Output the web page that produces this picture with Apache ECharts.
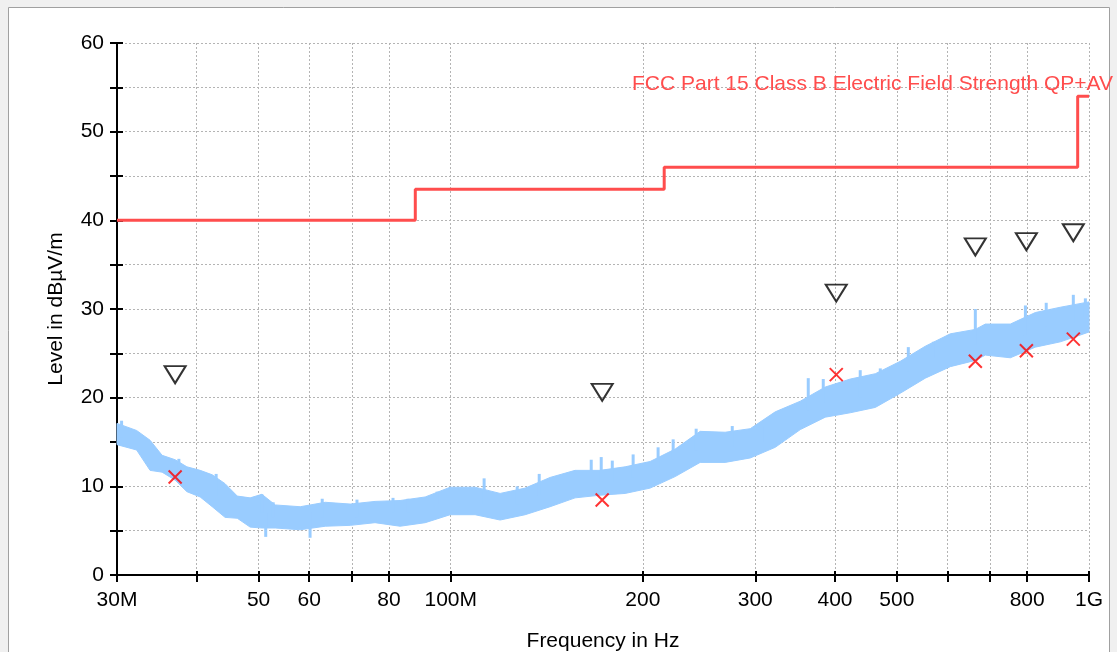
<!DOCTYPE html>
<html>
<head>
<meta charset="utf-8">
<script src="https://cdn.jsdelivr.net/npm/echarts@6/dist/echarts.min.js"></script>
<style>
  html, body { margin: 0; padding: 0; background: #f0f0f0; }
  #chart { width: 1117px; height: 652px; }
</style>
</head>
<body>
<div id="chart"></div>
<script>
// trace envelope, frequency in MHz
var freqMHz = [30, 32.2, 33.8, 35.3, 37.0, 38.6, 40.5, 42.3, 44.3, 46.3, 48.5, 50.6, 53.1, 58.1,
  63.6, 69.6, 76.1, 83.3, 91.2, 99.8, 109.2, 119.5, 130.8, 143.1, 156.6, 171.4, 187.6, 205.3,
  224.7, 245.9, 269.1, 294.6, 322.4, 352.9, 386.2, 422.7, 462.6, 506.2, 554.0, 606.3, 663.6,
  688, 753, 824, 902, 1000];
var traceLow = [14.7, 14.1, 11.8, 11.6, 10.7, 9.4, 8.8, 7.7, 6.5, 6.4, 5.4, 5.3, 5.3, 5.1,
  5.5, 5.6, 5.9, 5.5, 5.9, 6.8, 6.8, 6.2, 6.8, 7.7, 8.7, 9.0, 9.2, 9.8,
  11.1, 12.7, 12.7, 13.2, 14.4, 16.4, 17.8, 18.3, 18.9, 20.5, 22.2, 23.5, 24.2,
  24.8, 24.5, 25.7, 26.3, 27.4];
var traceHigh = [17.1, 16.3, 15.2, 13.5, 13.0, 12.2, 11.8, 11.3, 10.3, 8.9, 8.7, 9.1, 7.9, 7.7,
  8.2, 8.0, 8.3, 8.4, 8.8, 9.9, 9.9, 9.2, 9.8, 11.0, 11.8, 11.8, 12.2, 12.8,
  14.2, 16.2, 16.1, 16.5, 18.4, 19.6, 21.2, 22.1, 22.7, 24.1, 25.8, 27.2, 27.7,
  28.3, 28.3, 29.6, 30.2, 30.8];

// single spikes / dips of the trace
var spikeFreq = [30.5, 37.5, 42.9, 50.6, 51.3, 52.7, 60.2, 62.9, 71.3, 81.2, 85.7, 95.2, 112.8,
  127.1, 137.6, 166.0, 172.1, 179.1, 193.1, 211.3, 223.1, 242.4, 276.1, 307.7, 363.2, 383.4,
  438.1, 471.0, 521.1, 570.3, 663.6, 795, 857, 945, 987];
var spikeLow = [15.5, 11.5, 9.0, 7.0, 4.3, 6.5, 4.2, 6.5, 6.5, 7.0, 7.0, 8.0, 8.0,
  8.0, 9.0, 10.5, 10.5, 10.5, 11.0, 12.0, 13.0, 14.0, 14.5, 15.0, 18.5, 19.5,
  20.0, 21.0, 23.0, 24.5, 26.0, 27.0, 28.0, 28.5, 29.0];
var spikeHigh = [17.4, 13.1, 11.4, 9.1, 7.0, 8.2, 7.0, 8.6, 8.5, 8.7, 8.6, 9.4, 10.9,
  10.0, 11.4, 13.0, 13.3, 12.9, 13.6, 14.4, 15.3, 16.5, 16.8, 16.8, 22.2, 22.1,
  23.1, 23.3, 25.7, 26.3, 30.0, 30.4, 30.7, 31.6, 31.2];

// limit line (step)
var limitFreq = [30, 88, 88, 216, 216, 960, 960, 1000];
var limitLevel = [40, 40, 43.5, 43.5, 46, 46, 54, 54];

// final measurement markers
var markFreq = [37.0, 172.7, 401.8, 663.6, 797.8, 945];
var peakLevel = [22.6, 20.6, 31.8, 37.0, 37.6, 38.6];
var qpLevel = [11.05, 8.46, 22.6, 24.1, 25.3, 26.6];

// axis ticks
var xTickValues = [30, 40, 50, 60, 70, 80, 100, 200, 300, 400, 500, 600, 700, 800, 1000];
var xLabelValues = [30, 50, 60, 80, 100, 200, 300, 400, 500, 800, 1000];

var font = 'Liberation Sans';
var fs = 21;
var traceColor = '#99ccff';

function pairs(xs, ys) {
  return xs.map(function (x, i) { return [x, ys[i]]; });
}

var chart = echarts.init(document.getElementById('chart'));

chart.setOption({
  animation: false,
  backgroundColor: '#f0f0f0',
  graphic: [
    {
      type: 'rect',
      z: -10,
      silent: true,
      shape: { x: 8.5, y: 7.5, width: 1101, height: 700 },
      style: { fill: '#ffffff', stroke: '#a0a0a0', lineWidth: 1 }
    },
    {
      type: 'text',
      right: 4,
      top: 74,
      z: 100,
      style: {
        text: 'FCC Part 15 Class B Electric Field Strength QP+AV',
        fill: '#ff4d4d',
        font: fs + 'px ' + font
      }
    }
  ],
  grid: {
    left: 117, right: 28, top: 43, bottom: 77,
    outerBoundsMode: 'none'
  },
  xAxis: [
    {
      type: 'log',
      logBase: 10,
      min: 30,
      max: 1000,
      name: 'Frequency in Hz',
      nameLocation: 'middle',
      nameGap: 56,
      nameTextStyle: { fontFamily: font, fontSize: fs, color: '#000' },
      axisLine: { show: true, onZero: false, lineStyle: { color: '#000', width: 2 } },
      axisTick: { show: true, length: 7, customValues: xTickValues, lineStyle: { color: '#000', width: 2 } },
      axisLabel: {
        customValues: xLabelValues,
        margin: 15,
        fontFamily: font,
        fontSize: fs,
        color: '#000',
        formatter: function (v) {
          if (v === 30) return '30M';
          if (v === 100) return '100M';
          if (v === 1000) return '1G';
          return String(v);
        }
      },
      splitLine: { show: true, lineStyle: { color: '#b4b4b4', type: [2, 2], width: 1 } },
      minorTick: { show: false }
    },
    {
      type: 'log',
      logBase: 10,
      min: 30,
      max: 1000,
      position: 'bottom',
      axisLine: { show: false },
      axisTick: { show: true, inside: true, length: 4, customValues: xTickValues, lineStyle: { color: '#000', width: 2 } },
      axisLabel: { show: false },
      splitLine: { show: false }
    }
  ],
  yAxis: [
    {
      type: 'value',
      min: 0,
      max: 60,
      interval: 5,
      name: 'Level in dBµV/m',
      nameLocation: 'middle',
      nameGap: 50,
      nameTextStyle: { fontFamily: font, fontSize: fs, color: '#000' },
      axisLine: { show: true, lineStyle: { color: '#000', width: 2 } },
      axisTick: { show: true, length: 7, lineStyle: { color: '#000', width: 2 } },
      axisLabel: {
        margin: 13,
        fontFamily: font,
        fontSize: fs,
        color: '#000',
        formatter: function (v) { return v % 10 === 0 ? String(v) : ''; }
      },
      splitLine: { show: true, lineStyle: { color: '#b4b4b4', type: [2, 2], width: 1 } }
    },
    {
      type: 'value',
      min: 0,
      max: 60,
      interval: 5,
      position: 'left',
      axisLine: { show: false },
      axisTick: { show: true, inside: true, length: 6, lineStyle: { color: '#000', width: 2 } },
      axisLabel: { show: false },
      splitLine: { show: false }
    }
  ],
  series: [
    {
      // trace band: polygon between the low and high envelope
      name: 'trace',
      type: 'custom',
      data: freqMHz.map(function (f, i) { return [f, traceLow[i], traceHigh[i]]; }),
      encode: { x: 0, y: [1, 2] },
      renderItem: function (params, api) {
        if (params.dataIndex !== 0) return null;
        var pts = [];
        for (var i = 0; i < freqMHz.length; i++) {
          pts.push(api.coord([freqMHz[i], traceHigh[i]]));
        }
        for (var j = freqMHz.length - 1; j >= 0; j--) {
          pts.push(api.coord([freqMHz[j], traceLow[j]]));
        }
        return {
          type: 'polygon',
          shape: { points: pts },
          style: { fill: traceColor, stroke: traceColor, lineWidth: 1 }
        };
      },
      z: 2
    },
    {
      // spikes sticking out of the band
      name: 'spikes',
      type: 'custom',
      data: spikeFreq.map(function (f, i) { return [f, spikeLow[i], spikeHigh[i]]; }),
      encode: { x: 0, y: [1, 2] },
      renderItem: function (params, api) {
        var top = api.coord([api.value(0), api.value(2)]);
        var bot = api.coord([api.value(0), api.value(1)]);
        return {
          type: 'rect',
          shape: { x: top[0] - 1.5, y: top[1], width: 3, height: bot[1] - top[1] },
          style: { fill: traceColor }
        };
      },
      z: 2
    },
    {
      name: 'limit',
      type: 'line',
      symbol: 'none',
      lineStyle: { color: '#ff4d4d', width: 3 },
      data: pairs(limitFreq, limitLevel),
      z: 3
    },
    {
      name: 'peak',
      type: 'scatter',
      symbol: 'path://M0,0L20,0L10,17Z',
      symbolSize: [21, 17],
      itemStyle: { color: 'rgba(0,0,0,0)', borderColor: '#000', borderWidth: 2 },
      data: pairs(markFreq, peakLevel),
      z: 5
    },
    {
      name: 'qp',
      type: 'scatter',
      symbol: 'path://M0,0L10,10M10,0L0,10',
      symbolSize: 13,
      itemStyle: { color: 'rgba(0,0,0,0)', borderColor: '#ff0000', borderWidth: 2 },
      data: pairs(markFreq, qpLevel),
      z: 5
    }
  ]
});
</script>
</body>
</html>
